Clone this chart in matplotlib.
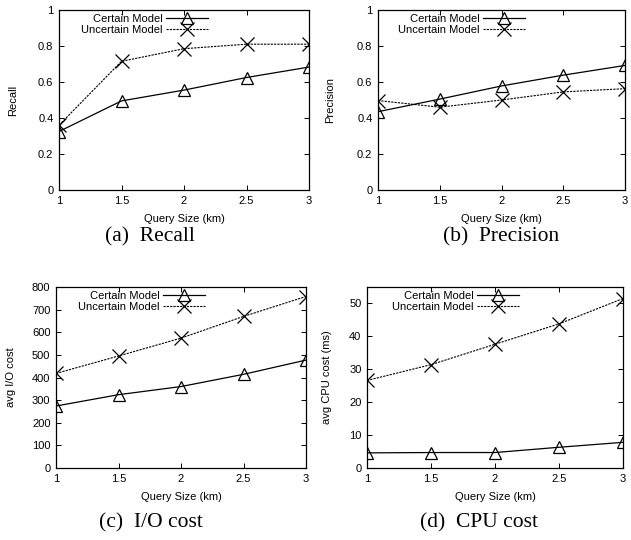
import matplotlib
matplotlib.use("Agg")
import matplotlib.pyplot as plt

plt.rcParams['font.family'] = ['Liberation Sans', 'DejaVu Sans']

# query sizes (km)
query_size = [1, 1.5, 2, 2.5, 3]

recall_certain = [0.325, 0.495, 0.555, 0.625, 0.683]
recall_uncertain = [0.36, 0.715, 0.785, 0.81, 0.81]

precision_certain = [0.435, 0.505, 0.578, 0.638, 0.692]
precision_uncertain = [0.497, 0.46, 0.50, 0.545, 0.563]

io_certain = [274, 324, 360, 414, 477]
io_uncertain = [418, 495, 574, 670, 758]

cpu_certain = [4.6, 4.7, 4.7, 6.3, 7.8]
cpu_uncertain = [26.6, 31.4, 37.6, 43.8, 51.5]

series_names = ['Certain Model', 'Uncertain Model']

W, H = 631, 540
fig = plt.figure(figsize=(W / 100, H / 100), dpi=100)


def px_axes(x0, x1, y0, y1):
    return fig.add_axes([x0 / W, 1 - y1 / H, (x1 - x0) / W, (y1 - y0) / H])


def draw(ax, cert, unc, ylabel, ylim, yticks, ylab_px):
    ax.plot(query_size, cert, color='black', lw=0.9, marker='^', ms=9,
            mfc='none', mec='black', mew=0.9, label=series_names[0])
    ax.plot(query_size, unc, color='black', lw=0.8, ls=(0, (2, 1)), marker='x', ms=10,
            mec='black', mew=0.9, label=series_names[1])
    ax.set_xlim(1, 3)
    ax.set_ylim(*ylim)
    ax.set_xticks(query_size)
    ax.set_xticklabels(['1', '1.5', '2', '2.5', '3'])
    ax.set_yticks(yticks)
    ax.set_yticklabels([('%g' % t) for t in yticks])
    ax.tick_params(direction='in', length=3.5, width=0.7, top=True, right=True,
                   labelsize=8, pad=4)
    for s in ax.spines.values():
        s.set_linewidth(0.9)
    ax.set_xlabel('Query Size (km)', fontsize=8, labelpad=6)
    ax.set_ylabel(ylabel, fontsize=8)
    # label position given in pixels (right edge of the rotated text)
    bb = ax.get_position()
    ax.yaxis.set_label_coords((ylab_px / W - bb.x0) / bb.width, 0.5)
    ax.legend(loc='upper right', bbox_to_anchor=(0.6, 0.985), frameon=False,
              markerfirst=False, fontsize=8, handlelength=3.8, handletextpad=0.3,
              borderpad=0.1, borderaxespad=0, labelspacing=0.08)


ax_a = px_axes(59, 309, 10, 190)
draw(ax_a, recall_certain, recall_uncertain, 'Recall', (0, 1),
     [0, 0.2, 0.4, 0.6, 0.8, 1], 18)

ax_b = px_axes(378, 625, 10, 190)
draw(ax_b, precision_certain, precision_uncertain, 'Precision', (0, 1),
     [0, 0.2, 0.4, 0.6, 0.8, 1], 335)

ax_c = px_axes(56, 306, 287, 468)
draw(ax_c, io_certain, io_uncertain, 'avg I/O cost', (0, 800),
     [0, 100, 200, 300, 400, 500, 600, 700, 800], 16)

ax_d = px_axes(367, 623, 287, 468)
draw(ax_d, cpu_certain, cpu_uncertain, 'avg CPU cost (ms)', (0, 55),
     [0, 10, 20, 30, 40, 50], 332)

captions = [('(a)  Recall', 150, 237), ('(b)  Precision', 501, 237),
            ('(c)  I/O cost', 151, 523), ('(d)  CPU cost', 479, 523)]
for txt, cx, cy in captions:
    fig.text(cx / W, 1 - cy / H, txt, ha='center', va='center', fontsize=15.5,
             family=['Liberation Serif', 'DejaVu Serif'])

fig.savefig('out.png', dpi=100)
